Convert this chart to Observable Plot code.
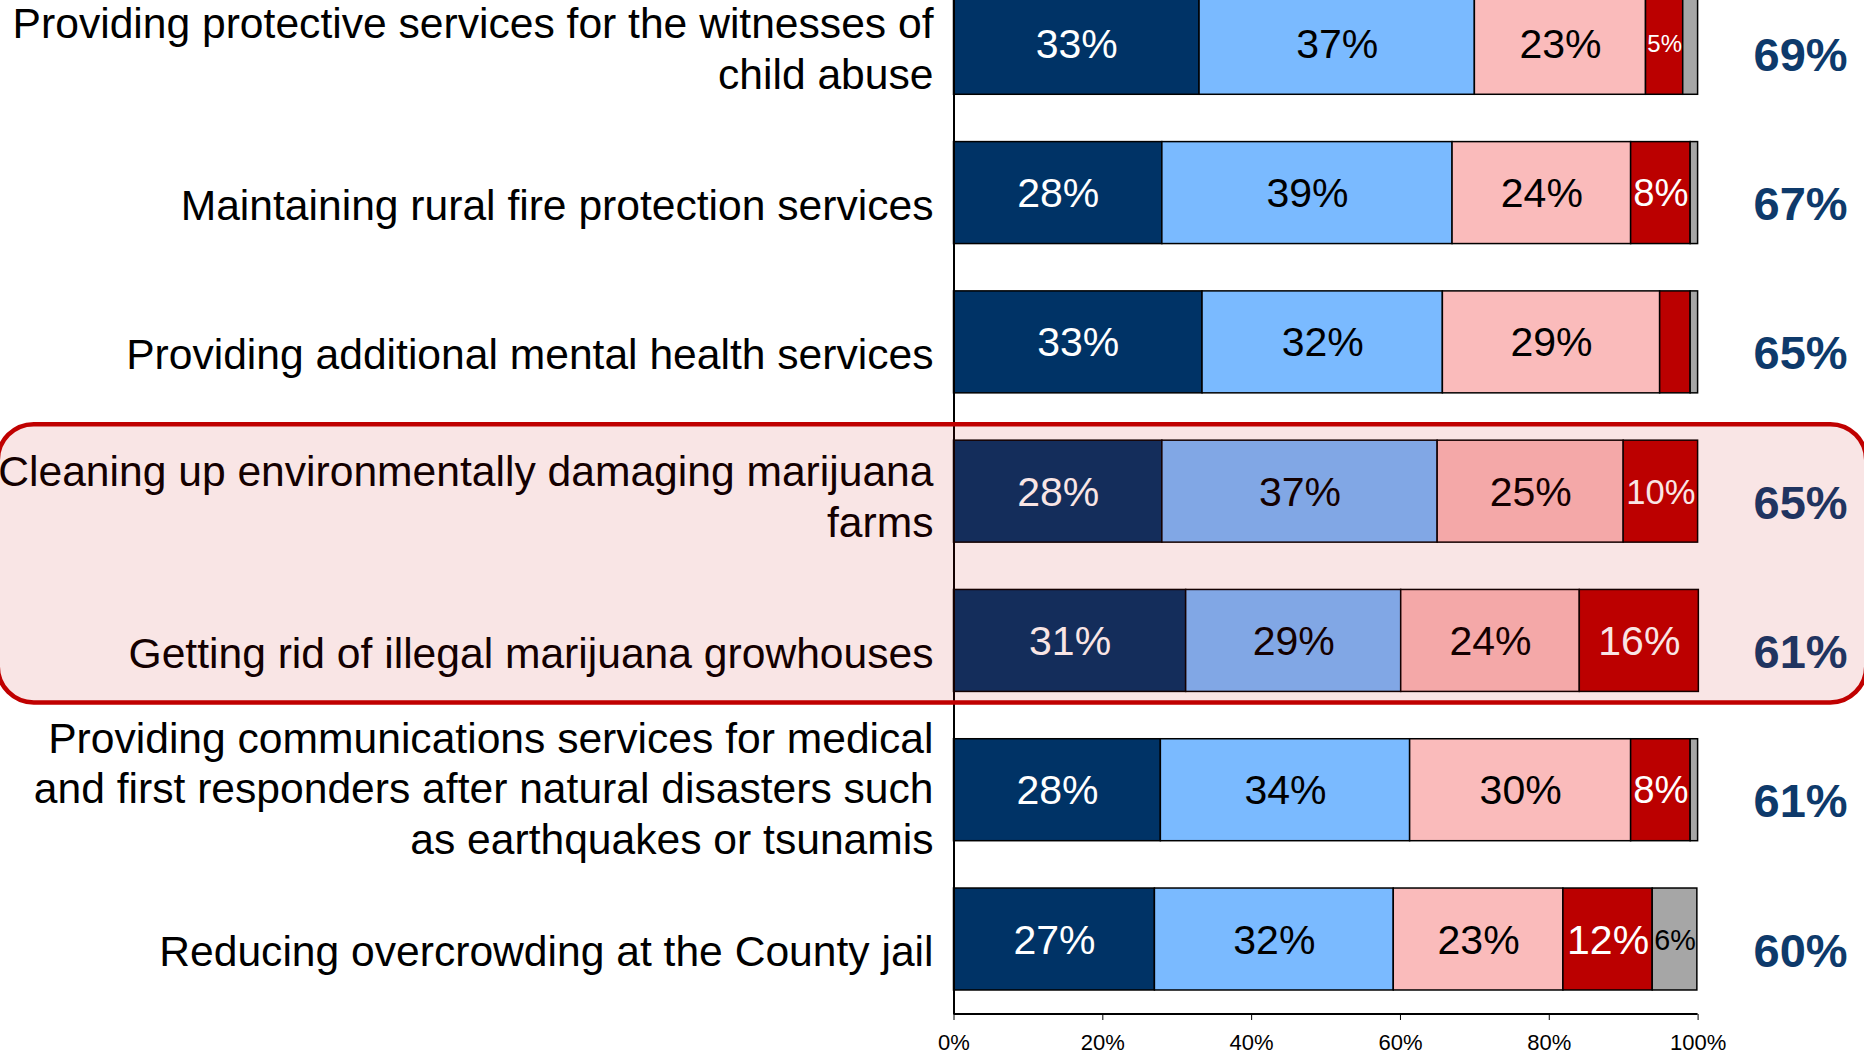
<!DOCTYPE html>
<html>
<head>
<meta charset="utf-8">
<script src="https://cdn.jsdelivr.net/npm/d3@7"></script>
<script src="https://cdn.jsdelivr.net/npm/@observablehq/plot@0.6"></script>
<style>
html, body { margin: 0; padding: 0; background: #fff; overflow: hidden; }
#chart { width: 1864px; height: 1053px; position: relative; }
</style>
</head>
<body>
<div id="chart"></div>
<script>
// ---------- data ----------
const categories = [
  "Providing protective services for the witnesses of\nchild abuse",
  "Maintaining rural fire protection services",
  "Providing additional mental health services",
  "Cleaning up environmentally damaging marijuana\nfarms",
  "Getting rid of illegal marijuana growhouses",
  "Providing communications services for medical\nand first responders after natural disasters such\nas earthquakes or tsunamis",
  "Reducing overcrowding at the County jail"
];
const seriesNames = ["Extremely important", "Very important", "Somewhat important", "Not too important", "Don't know"];
const extremely = [33, 28, 33.4, 28, 31.2, 27.8, 27];
const very      = [37, 39, 32.3, 37, 28.9, 33.5, 32.1];
const somewhat  = [23, 24, 29.2, 25, 24, 29.7, 22.8];
const notToo    = [5, 8, 4.1, 10, 16, 8, 12];
const dontKnow  = [2, 1, 1, 0, 0, 1, 6];
const totals    = [69, 67, 65, 65, 61, 61, 60];
const xTicks    = [0, 20, 40, 60, 80, 100];
const highlightedRows = [categories[3], categories[4]];

(function () {
// ---------- styling ----------
const FONT = "'Liberation Sans', Arial, Helvetica, sans-serif";
const fillColor = {
  "Extremely important": "#003366",
  "Very important": "#7ABAFF",
  "Somewhat important": "#FABBBB",
  "Not too important": "#BB0000",
  "Don't know": "#A6A6A6"
};
const textColor = {
  "Extremely important": "#FFFFFF",
  "Very important": "#000000",
  "Somewhat important": "#000000",
  "Not too important": "#FFFFFF",
  "Don't know": "#000000"
};

const seriesValues = [extremely, very, somewhat, notToo, dontKnow];
const segs = [];
categories.forEach((cat, i) => {
  seriesNames.forEach((s, j) => segs.push({cat, series: s, value: seriesValues[j][i]}));
});

const W = 1864, H = 1053;
const mL = 953.5, mR = 166.4, mB = 39;
const pxPerUnit = (W - mL - mR) / 100;
const labelText = d => d.value >= 5 ? Math.round(d.value) + "%" : "";
const labelSize = d => {
  const t = labelText(d);
  if (!t) return 10;
  const em = (t.length - 1) * 0.556 + 0.889;
  return Math.min(41, 0.93 * d.value * pxPerUnit / em);
};
const nLines = c => c.split("\n").length;
const catDy = {1: 10.5, 2: 3.5, 3: -3};

const plot = Plot.plot({
  width: W,
  height: H,
  marginLeft: mL,
  marginRight: mR,
  marginTop: 0,
  marginBottom: mB,
  style: {fontFamily: FONT, fontSize: "22px", color: "#000", background: "transparent", overflow: "visible"},
  x: {domain: [0, 100], ticks: xTicks, tickFormat: d => d + "%", tickSize: 6, tickPadding: 14, label: null},
  y: {domain: categories, range: [-31.35, 1013.65], paddingInner: 0.317, paddingOuter: 0.1585, round: false, axis: null},
  color: {type: "identity"},
  marks: [
    Plot.barX(segs, Plot.stackX({
      x: "value", y: "cat",
      fill: d => fillColor[d.series],
      stroke: "#000", strokeWidth: 1.5
    })),
    Plot.text(segs, Plot.stackX({
      x: "value", y: "cat",
      text: labelText,
      fill: d => textColor[d.series],
      fontSize: labelSize,
      dy: 1
    })),
    ...[1, 2, 3].map(n => Plot.text(categories.filter(c => nLines(c) === n), {
      y: d => d, text: d => d,
      frameAnchor: "left", textAnchor: "end", dx: -20.5, dy: catDy[n],
      fontSize: 42.6, lineHeight: 1.19, fill: "#000"
    })),
    Plot.text(totals, {
      y: (d, i) => categories[i], text: d => d + "%",
      frameAnchor: "right", dx: 102.5, dy: 12, textAnchor: "middle",
      fontSize: 47, fontWeight: "bold", fill: "#0E3A6B"
    }),
    Plot.ruleX([0], {stroke: "#000", strokeWidth: 2})
  ]
});

document.getElementById("chart").appendChild(plot);

// axis line and highlight box, positioned with the plot's own scales
const sx = plot.scale("x"), sy = plot.scale("y");
const svg = d3.select(plot);
const baseY = H - mB;
svg.append("line")
  .attr("x1", sx.apply(0)).attr("x2", sx.apply(100))
  .attr("y1", baseY).attr("y2", baseY)
  .attr("stroke", "#000").attr("stroke-width", 2);

const boxTop = sy.apply(highlightedRows[0]) - 16;
const boxBottom = sy.apply(highlightedRows[1]) + sy.bandwidth + 11;
svg.append("rect")
  .attr("x", -2.25).attr("width", W + 4.5)
  .attr("y", boxTop).attr("height", boxBottom - boxTop)
  .attr("rx", 36).attr("ry", 36)
  .attr("fill", "#C00000").attr("fill-opacity", 0.1)
  .attr("stroke", "#C00000").attr("stroke-width", 4.5);
})();
</script>
</body>
</html>
